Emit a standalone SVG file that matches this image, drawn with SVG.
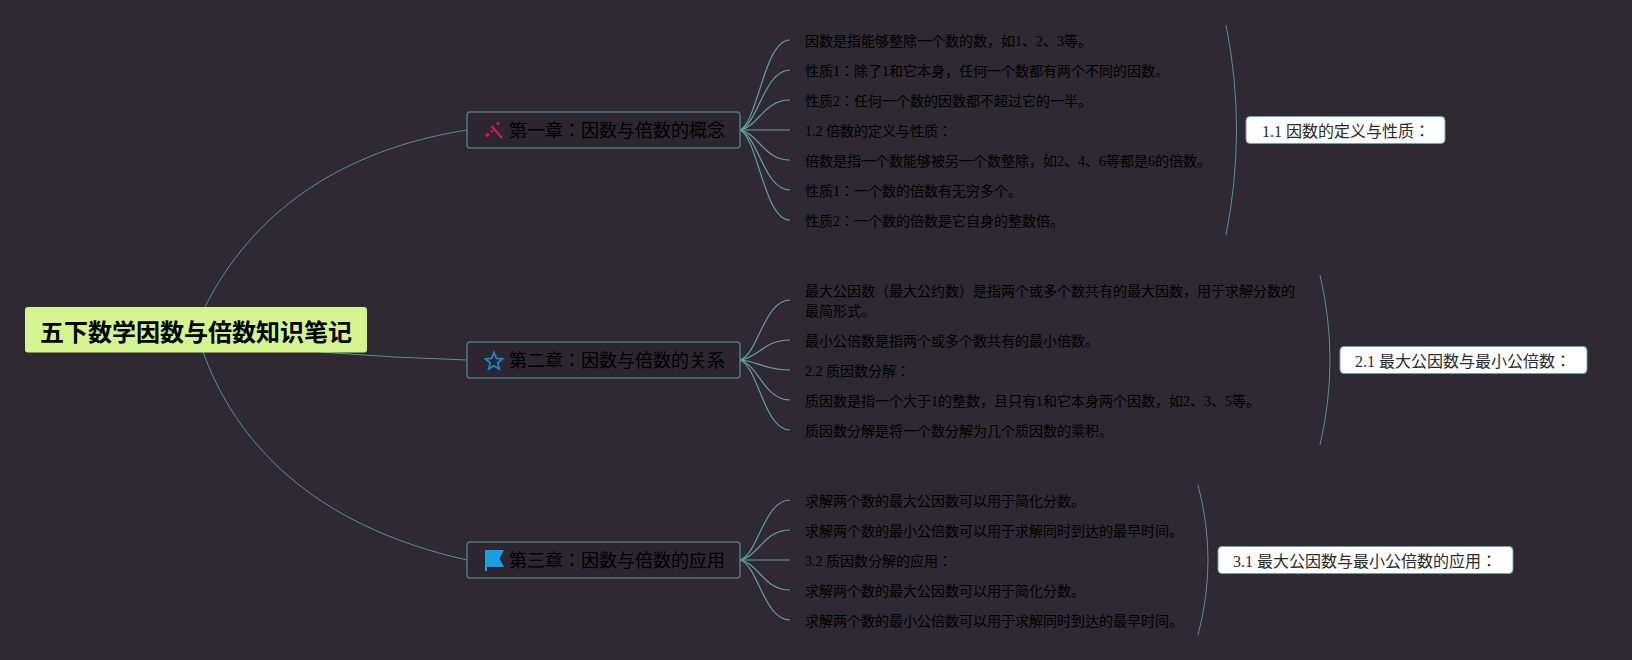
<svg xmlns="http://www.w3.org/2000/svg" width="1632" height="660" viewBox="0 0 1632 660">
<style>
text{font-family:"Liberation Serif","Noto Sans CJK JP",serif;fill:#000}
.root{font-size:24px;font-weight:700;fill:#000;font-family:"Noto Sans CJK JP","Liberation Sans",sans-serif}
.ch{font-size:18px}.d{font-size:14px}.s{font-size:16px;fill:#2b2b2b}
.l{fill:none;stroke:#64a49c;stroke-width:1.200}
.m{fill:none;stroke:#5d8f92;stroke-width:1}
.chbox{fill:#2b2630;stroke:#4f7776;stroke-width:1.600}
.sbox{fill:#fff;stroke:#68a6a0;stroke-width:1}
</style>
<rect width="1632" height="660" fill="#2e2933"/>
<g id="connectors">
<path class="m" d="M205 307C252 213 340 150 467 130"/>
<path class="m" d="M320 352Q395 358 467 360"/>
<path class="m" d="M203 352C235 440 310 525 467 560"/>
<path class="l" d="M740 130C758 122 764 40 790 40"/>
<path class="l" d="M740 130C758 125 764 70 790 70"/>
<path class="l" d="M740 130C758 127 764 100 790 100"/>
<path class="l" d="M740 130H790"/>
<path class="l" d="M740 130C758 133 764 160 790 160"/>
<path class="l" d="M740 130C758 135 764 190 790 190"/>
<path class="l" d="M740 130C758 138 764 220 790 220"/>
<path class="l" d="M740 360C758 355 764 300 790 300"/>
<path class="l" d="M740 360C758 358 764 340 790 340"/>
<path class="l" d="M740 360C758 361 764 370 790 370"/>
<path class="l" d="M740 360C758 364 764 400 790 400"/>
<path class="l" d="M740 360C758 366 764 430 790 430"/>
<path class="l" d="M740 560C758 555 764 500 790 500"/>
<path class="l" d="M740 560C758 557 764 530 790 530"/>
<path class="l" d="M740 560H790"/>
<path class="l" d="M740 560C758 563 764 590 790 590"/>
<path class="l" d="M740 560C758 565 764 620 790 620"/>
<path class="m" d="M1226 25Q1247 130 1226 235"/>
<path class="m" d="M1320 275Q1340 360 1320 445"/>
<path class="m" d="M1198 485Q1218 560 1198 635"/>
</g>
<g id="root"><rect x="25" y="307" width="342" height="45.500" rx="3" fill="#d4f490"/><text class="root" x="196" y="341" text-anchor="middle">五下数学因数与倍数知识笔记</text></g>
<g id="ch1"><rect class="chbox" x="467" y="112" width="273" height="36" rx="3"/>
<path d="M491.500 126L502 138M493 130.500L491 132" stroke="#d4145a" stroke-width="2.200" fill="none"/><circle cx="498" cy="123.500" r="1.600" fill="#d4145a"/><circle cx="487.500" cy="135" r="2" fill="#d4145a"/>
<text class="ch" x="509" y="137">第一章：因数与倍数的概念</text></g>
<g id="ch2"><rect class="chbox" x="467" y="342" width="273" height="36" rx="3"/>
<path d="M494 352.500L496.400 358.400 502.500 358.900 497.800 362.900 499.300 369 494 365.800 488.700 369 490.200 362.900 485.500 358.900 491.600 358.400Z" fill="none" stroke="#1c86d0" stroke-width="1.800"/>
<text class="ch" x="509" y="367">第二章：因数与倍数的关系</text></g>
<g id="ch3"><rect class="chbox" x="467" y="542" width="273" height="36" rx="3"/>
<path d="M485 550H504L499.500 558.500 504 567H487V571H485Z" fill="#1a9fe6"/>
<text class="ch" x="509" y="567">第三章：因数与倍数的应用</text></g>
<g id="d1"><text class="d" x="805" y="46">因数是指能够整除一个数的数，如1、2、3等。</text></g>
<g id="d2"><text class="d" x="805" y="76">性质1：除了1和它本身，任何一个数都有两个不同的因数。</text></g>
<g id="d3"><text class="d" x="805" y="106">性质2：任何一个数的因数都不超过它的一半。</text></g>
<g id="d4"><text class="d" x="805" y="136">1.2 倍数的定义与性质：</text></g>
<g id="d5"><text class="d" x="805" y="166">倍数是指一个数能够被另一个数整除，如2、4、6等都是6的倍数。</text></g>
<g id="d6"><text class="d" x="805" y="196">性质1：一个数的倍数有无穷多个。</text></g>
<g id="d7"><text class="d" x="805" y="226">性质2：一个数的倍数是它自身的整数倍。</text></g>
<g id="d8"><text class="d" x="805" y="296">最大公因数（最大公约数）是指两个或多个数共有的最大因数，用于求解分数的</text><text class="d" x="805" y="316">最简形式。</text></g>
<g id="d9"><text class="d" x="805" y="346">最小公倍数是指两个或多个数共有的最小倍数。</text></g>
<g id="d10"><text class="d" x="805" y="376">2.2 质因数分解：</text></g>
<g id="d11"><text class="d" x="805" y="406">质因数是指一个大于1的整数，且只有1和它本身两个因数，如2、3、5等。</text></g>
<g id="d12"><text class="d" x="805" y="436">质因数分解是将一个数分解为几个质因数的乘积。</text></g>
<g id="d13"><text class="d" x="805" y="506">求解两个数的最大公因数可以用于简化分数。</text></g>
<g id="d14"><text class="d" x="805" y="536">求解两个数的最小公倍数可以用于求解同时到达的最早时间。</text></g>
<g id="d15"><text class="d" x="805" y="566">3.2 质因数分解的应用：</text></g>
<g id="d16"><text class="d" x="805" y="596">求解两个数的最大公因数可以用于简化分数。</text></g>
<g id="d17"><text class="d" x="805" y="626">求解两个数的最小公倍数可以用于求解同时到达的最早时间。</text></g>
<g id="s1"><rect class="sbox" x="1246" y="116.500" width="199" height="27" rx="4"/><text class="s" x="1262" y="136.500">1.1 因数的定义与性质：</text></g>
<g id="s2"><rect class="sbox" x="1340" y="346.500" width="247" height="27" rx="4"/><text class="s" x="1355" y="366.500">2.1 最大公因数与最小公倍数：</text></g>
<g id="s3"><rect class="sbox" x="1218" y="546.500" width="295" height="27" rx="4"/><text class="s" x="1233" y="566.500">3.1 最大公因数与最小公倍数的应用：</text></g>
</svg>
